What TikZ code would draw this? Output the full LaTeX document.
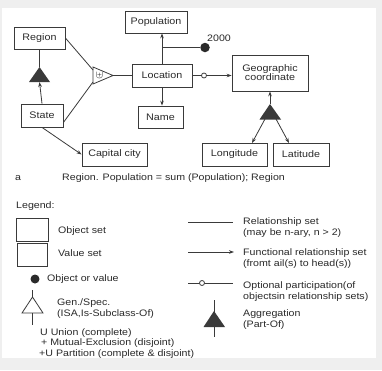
\documentclass[tikz,border=0pt]{standalone}
\usepackage{fontspec}
\setmainfont{Liberation Sans}[FakeStretch=1.13]
\usetikzlibrary{arrows.meta}
\definecolor{bggray}{HTML}{EFEFEF}
\definecolor{ink}{HTML}{2A2A2A}
\definecolor{lineink}{HTML}{3A3A3A}
\tikzset{
  box/.style={draw=lineink,line width=0.8pt,fill=white,inner sep=0pt,font=\fontsize{9.5}{10}\selectfont,text=ink,align=center},
  lbl/.style={inner sep=0pt,font=\fontsize{9.4}{11}\selectfont,text=ink,align=left},
  conn/.style={draw=lineink,line width=0.8pt},
  arr/.style={conn,-{Stealth[length=5pt,width=3.6pt]}},
}
\begin{document}
\begin{tikzpicture}[x=1pt,y=-1pt]
\useasboundingbox (0,0) rectangle (382,370);
\fill[bggray] (0,0) rectangle (382,370);
\fill[white] (2,8) rectangle (376,358);
% boxes
\node[box,minimum width=51pt,minimum height=22pt] (region) at (39.5,38) {Region};
\node[box,minimum width=42pt,minimum height=23pt] (state) at (42,115.5) {State};
\node[box,minimum width=60pt,minimum height=23pt] (location) at (162,75.5) {Location};
\node[box,minimum width=62pt,minimum height=22pt] (population) at (156,22) {Population};
\node[box,minimum width=45pt,minimum height=22pt] (name) at (160.5,117) {Name};
\node[box,minimum width=65pt,minimum height=23pt] (capital) at (114.5,154.5) {Capital city};
\node[box,minimum width=76pt,minimum height=36pt] (geo) at (270,73) {Geographic\\[-1pt]coordinate};
\node[box,minimum width=65pt,minimum height=23pt] (longitude) at (234.5,154.5) {Longitude};
\node[box,minimum width=56pt,minimum height=23pt] (latitude) at (301,154.5) {Latitude};
% aggregation Region/State
\coordinate (ag1apex) at (39.5,67);
\coordinate (ag1base) at (39.5,82);
\fill[lineink] (ag1apex) -- (29,82) -- (50,82) -- cycle;
\draw[conn] (region.south) -- (ag1apex);
\draw[arr] (state.north) -- (ag1base);
% union
\coordinate (u1) at (93,70);
\coordinate (u2) at (93,82);
\coordinate (uapex) at (113,75.5);
\draw[conn,fill=white] (93,67) -- (93,84) -- (uapex) -- cycle;
\node[inner sep=0pt,font=\fontsize{11}{11}\selectfont,text=ink] (uplus) at (99.5,75) {$\uplus$};
\draw[conn] (region.east) -- (u1);
\draw[conn] ([yshift=-7pt]state.east) -- (u2);
\draw[conn] (uapex) -- (location.west);
% population
\draw[arr] (location.north) -- (location.north |- population.south);
\coordinate (branch) at (162,47.5);
\node[circle,fill=ink,inner sep=0pt,minimum size=9.5pt] (dot) at (205,47.5) {};
\draw[conn] (branch) -- (dot);
\node[lbl] (y2000) at (219,38) {2000};
% name
\draw[arr] (location.south) -- (location.south |- name.north);
% capital city
\draw[arr] (state.south) -- (capital.west);
% geo
\draw[arr] (location.east) -- (location.east -| geo.west);
\node[circle,draw=lineink,line width=0.8pt,fill=white,inner sep=0pt,minimum size=5pt] (opt) at (204,75.5) {};
% aggregation geo
\coordinate (ag2apex) at (270,104);
\fill[lineink] (ag2apex) -- (259.5,119.5) -- (281,119.5) -- cycle;
\draw[arr] (ag2apex) -- (geo.south);
\coordinate (ag2l) at (265,119);
\coordinate (ag2r) at (276,119);
\coordinate (lonTop) at (252,143);
\coordinate (latTop) at (289,143);
\draw[arr] (ag2l) -- (lonTop);
\draw[arr] (ag2r) -- (latTop);
% caption
\node[lbl,anchor=west] (capa) at (15,178) {a};
\node[lbl,anchor=west] (caption) at (62,178) {Region. Population = sum (Population); Region};
% legend
\node[lbl,anchor=west] (legend) at (16,206) {Legend:};
\node[box,minimum width=32pt,minimum height=23pt] (lobj) at (32,229.5) {};
\node[lbl,anchor=west] (tobj) at (58,231) {Object set};
\node[box,minimum width=30pt,minimum height=23pt] (lval) at (32,254.5) {};
\node[lbl,anchor=west] (tval) at (58,253.5) {Value set};
\node[circle,fill=ink,inner sep=0pt,minimum size=9pt] (ldot) at (35,279) {};
\node[lbl,anchor=west] (tdot) at (47,279) {Object or value};
% gen/spec
\coordinate (gtop) at (32.5,290);
\coordinate (gapex) at (32.5,297);
\coordinate (gbase) at (32.5,313);
\coordinate (gbot) at (32.5,325);
\draw[conn] (gapex) -- (22,313) -- (43,313) -- cycle;
\draw[conn] (gtop) -- (gapex);
\draw[conn] (gbase) -- (gbot);
\node[lbl,anchor=west] (tgen) at (57,309) {Gen./Spec.\\(ISA,Is-Subclass-Of)};
\node[lbl,anchor=west] (tunion) at (40,333) {U Union (complete)};
\node[lbl,anchor=west] (tmut) at (41,343.5) {+ Mutual-Exclusion (disjoint)};
\node[lbl,anchor=west] (tpart) at (39,354) {+U Partition (complete \& disjoint)};
% right legend
\coordinate (r1a) at (188,222);
\coordinate (r1b) at (233,222);
\draw[conn] (r1a) -- (r1b);
\node[lbl,anchor=west] (trel) at (243,228) {Relationship set\\(may be n-ary, n > 2)};
\coordinate (r2a) at (188,252);
\coordinate (r2b) at (234,252);
\draw[arr] (r2a) -- (r2b);
\node[lbl,anchor=west] (tfun) at (243,259) {Functional relationship set\\(fromt ail(s) to head(s))};
\coordinate (r3a) at (188,283);
\coordinate (r3b) at (233,283);
\draw[conn] (r3a) -- (r3b);
\node[circle,draw=lineink,line width=0.8pt,fill=white,inner sep=0pt,minimum size=5pt] (ropt) at (202,283) {};
\node[lbl,anchor=west] (topt) at (243,291.5) {Optional participation(of\\objectsin relationship sets)};
\coordinate (r4a) at (214,300);
\coordinate (r4b) at (214,337);
\draw[conn] (r4a) -- (r4b);
\fill[lineink] (214,311) -- (203.5,327) -- (225,327) -- cycle;
\node[lbl,anchor=west] (tagg) at (243,320) {Aggregation\\(Part-Of)};
\end{tikzpicture}
\end{document}
